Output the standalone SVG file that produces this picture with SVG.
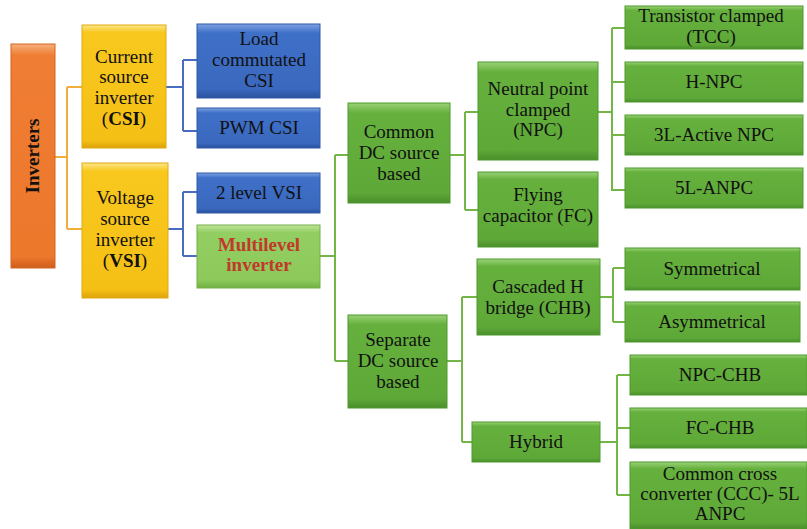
<svg xmlns="http://www.w3.org/2000/svg" width="807" height="529" viewBox="0 0 807 529">
<defs>
<linearGradient id="gGreen" x1="0" y1="0" x2="0" y2="1">
<stop offset="0" stop-color="#9AD276"/><stop offset="0.1" stop-color="#66B13E"/><stop offset="0.9" stop-color="#5EA837"/><stop offset="1" stop-color="#4A8E2C"/>
</linearGradient>
<linearGradient id="gLight" x1="0" y1="0" x2="0" y2="1">
<stop offset="0" stop-color="#BFE49C"/><stop offset="0.12" stop-color="#93CE62"/><stop offset="0.88" stop-color="#8CC95A"/><stop offset="1" stop-color="#72B044"/>
</linearGradient>
<linearGradient id="gBlue" x1="0" y1="0" x2="0" y2="1">
<stop offset="0" stop-color="#7FA3E3"/><stop offset="0.12" stop-color="#3F70C8"/><stop offset="0.88" stop-color="#3A68BE"/><stop offset="1" stop-color="#2A519E"/>
</linearGradient>
<linearGradient id="gYellow" x1="0" y1="0" x2="0" y2="1">
<stop offset="0" stop-color="#FCE68A"/><stop offset="0.06" stop-color="#F8C81E"/><stop offset="0.94" stop-color="#F5C016"/><stop offset="1" stop-color="#DDA20A"/>
</linearGradient>
<linearGradient id="gOrange" x1="0" y1="0" x2="0" y2="1">
<stop offset="0" stop-color="#F7B07C"/><stop offset="0.05" stop-color="#EF7D33"/><stop offset="0.95" stop-color="#EC782C"/><stop offset="1" stop-color="#CF5E1C"/>
</linearGradient>
</defs>
<style>
.g{fill:url(#gGreen);stroke:#4F9A2E;stroke-width:1}
.lg{fill:url(#gLight);stroke:#74B046;stroke-width:1}
.b{fill:url(#gBlue);stroke:#2E5AA8;stroke-width:1}
.y{fill:url(#gYellow);stroke:#E0AA10;stroke-width:1}
.o{fill:url(#gOrange);stroke:#D3661F;stroke-width:1}
text{font-family:"Liberation Serif","Times New Roman",serif;font-size:19px;fill:#111;text-anchor:middle}
.bold{font-weight:bold}
.red{fill:#C0392B;font-weight:bold}
.c{fill:none;stroke-width:2}
.co{stroke:#F2AE3C}
.cb{stroke:#4A6CC0}
.cg{stroke:#74B548}
</style>
<g id="connectors">
<path class="c co" d="M55 157 H67 M67 87 V229 M67 87 H82 M67 229 H82"/>
<path class="c cb" d="M166 87 H183 M183 60 V131 M183 60 H197 M183 131 H197"/>
<path class="c cb" d="M168 229 H183 M183 192 V256 M183 192 H197 M183 256 H197"/>
<path class="c cg" d="M320 256 H335 M335 155 V361 M335 155 H348 M335 361 H348"/>
<path class="c cg" d="M450 155 H465 M465 112 V210 M465 112 H478 M465 210 H478"/>
<path class="c cg" d="M598 112 H612 M612 28 V190 H625 M612 28 H625 M612 82 H625 M612 135 H625"/>
<path class="c cg" d="M447 361 H462 M462 297 V442 M462 297 H477 M462 442 H472"/>
<path class="c cg" d="M600 297 H613 M613 268 V322 M613 268 H625 M613 322 H625"/>
<path class="c cg" d="M600 442 H617 M617 375 V495 M617 375 H630 M617 428 H630 M617 495 H630"/>
</g>
<g id="inverters"><rect class="o" x="11" y="44" width="44" height="224"/><text class="bold" transform="translate(39 156) rotate(-90)" font-size="20">Inverters</text></g>
<g id="csi"><rect class="y" x="82" y="25" width="84" height="123"/><text x="124" y="63">Current</text><text x="124" y="83">source</text><text x="124" y="104">inverter</text><text x="124" y="125">(<tspan class="bold">CSI</tspan>)</text></g>
<g id="vsi"><rect class="y" x="82" y="163" width="86" height="135"/><text x="125" y="204">Voltage</text><text x="125" y="225">source</text><text x="125" y="246">inverter</text><text x="125" y="267">(<tspan class="bold">VSI</tspan>)</text></g>
<g id="lcsi"><rect class="b" x="197" y="24" width="123" height="74"/><text x="259" y="45">Load</text><text x="259" y="66">commutated</text><text x="259" y="87">CSI</text></g>
<g id="pwmcsi"><rect class="b" x="197" y="108" width="123" height="40"/><text x="259" y="134">PWM CSI</text></g>
<g id="vsi2"><rect class="b" x="197" y="173" width="123" height="40"/><text x="259" y="199">2 level VSI</text></g>
<g id="multilevel"><rect class="lg" x="197" y="225" width="123" height="63"/><text class="red" x="259" y="251">Multilevel</text><text class="red" x="259" y="271">inverter</text></g>
<g id="commondc"><rect class="g" x="348" y="103" width="102" height="100"/><text x="399" y="138">Common</text><text x="399" y="159">DC source</text><text x="399" y="180">based</text></g>
<g id="npc"><rect class="g" x="478" y="62" width="120" height="98"/><text x="538" y="95">Neutral point</text><text x="538" y="116">clamped</text><text x="538" y="136">(NPC)</text></g>
<g id="fc"><rect class="g" x="478" y="172" width="120" height="75"/><text x="538" y="201">Flying</text><text x="538" y="222">capacitor (FC)</text></g>
<g id="tcc"><rect class="g" x="625" y="6" width="178" height="43"/><text x="711" y="22">Transistor clamped</text><text x="711" y="43">(TCC)</text></g>
<g id="hnpc"><rect class="g" x="625" y="62" width="178" height="40"/><text x="714" y="88">H-NPC</text></g>
<g id="anpc3"><rect class="g" x="625" y="115" width="178" height="40"/><text x="714" y="141">3L-Active NPC</text></g>
<g id="anpc5"><rect class="g" x="625" y="168" width="178" height="40"/><text x="714" y="194">5L-ANPC</text></g>
<g id="separatedc"><rect class="g" x="348" y="315" width="99" height="93"/><text x="398" y="346">Separate</text><text x="398" y="367">DC source</text><text x="398" y="388">based</text></g>
<g id="chb"><rect class="g" x="477" y="259" width="123" height="76"/><text x="538" y="293">Cascaded H</text><text x="538" y="314">bridge (CHB)</text></g>
<g id="hybrid"><rect class="g" x="472" y="422" width="128" height="40"/><text x="536" y="448">Hybrid</text></g>
<g id="sym"><rect class="g" x="625" y="248" width="175" height="42"/><text x="712" y="275">Symmetrical</text></g>
<g id="asym"><rect class="g" x="625" y="302" width="175" height="40"/><text x="712" y="328">Asymmetrical</text></g>
<g id="npcchb"><rect class="g" x="630" y="355" width="177" height="40"/><text x="720" y="381">NPC-CHB</text></g>
<g id="fcchb"><rect class="g" x="630" y="408" width="177" height="40"/><text x="720" y="434">FC-CHB</text></g>
<g id="ccc"><rect class="g" x="630" y="462" width="177" height="67"/><text x="720" y="480">Common cross</text><text x="720" y="500">converter (CCC)- 5L</text><text x="720" y="520">ANPC</text></g>
</svg>
